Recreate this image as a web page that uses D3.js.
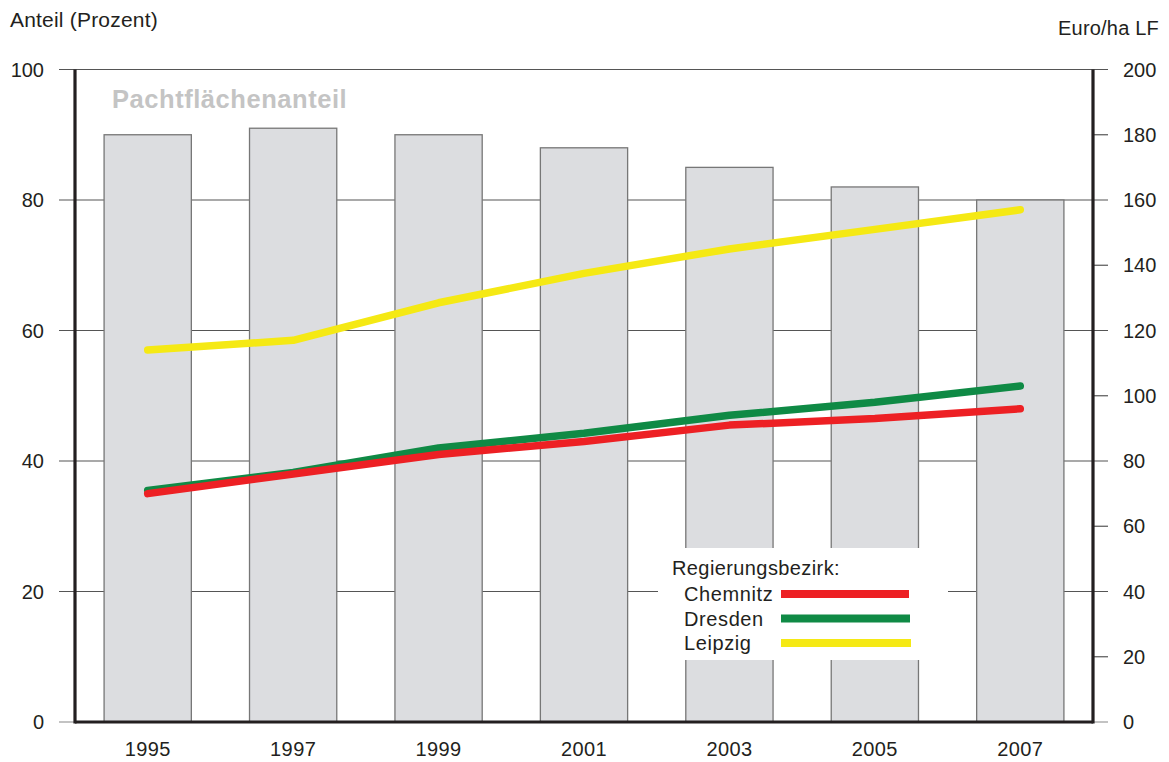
<!DOCTYPE html>
<html>
<head>
<meta charset="utf-8">
<script src="https://cdn.jsdelivr.net/npm/d3@7"></script>
<style>
  body { margin: 0; background: #fff; }
  svg { display: block; font-family: "Liberation Sans", Arial, sans-serif; }
</style>
</head>
<body>
<svg></svg>
<script>
const years = ['1995', '1997', '1999', '2001', '2003', '2005', '2007'];
const pachtAnteil = [90, 91, 90, 88, 85, 82, 80];
const chemnitz = [70, 76, 82, 86, 91, 93, 96];
const dresden = [71, 76.5, 84, 88.5, 94, 98, 103];
const leipzig = [114, 117, 128.5, 137.5, 145, 151, 157];
const leftTicks = [0, 20, 40, 60, 80, 100];
const rightTicks = [0, 20, 40, 60, 80, 100, 120, 140, 160, 180, 200];

const size = {w: 1169, h: 762};
const margin = {t: 69.5, r: 76, b: 40, l: 75};
const svg = d3.select('svg')
    .attr('width', size.w)
    .attr('height', size.h);

const x = d3.scaleBand()
    .domain(years)
    .range([margin.l, size.w - margin.r])
    .paddingInner(0.4)
    .paddingOuter(0.2);

const yL = d3.scaleLinear().domain([0, 100]).range([size.h - margin.b, margin.t]);
const yR = d3.scaleLinear().domain([0, 200]).range([size.h - margin.b, margin.t]);

const x0 = margin.l, x1 = size.w - margin.r;

// gridlines + ticks
svg.append('g').selectAll('line')
    .data(leftTicks)
    .join('line')
    .attr('x1', x0 - 16)
    .attr('x2', x1 + 15)
    .attr('y1', d => yL(d))
    .attr('y2', d => yL(d))
    .attr('stroke', d => d === 0 ? '#888' : '#555')
    .attr('stroke-width', 1.2);

// right-only ticks (odd ones)
svg.append('g').selectAll('line')
    .data(rightTicks.filter(d => d % 40 !== 0))
    .join('line')
    .attr('x1', x1)
    .attr('x2', x1 + 15)
    .attr('y1', d => yR(d))
    .attr('y2', d => yR(d))
    .attr('stroke', '#555')
    .attr('stroke-width', 1.2);

// bars
svg.append('g').selectAll('rect')
    .data(pachtAnteil)
    .join('rect')
    .attr('x', (d, i) => x(years[i]))
    .attr('width', x.bandwidth())
    .attr('y', d => yL(d))
    .attr('height', d => yL(0) - yL(d))
    .attr('fill', '#dcdde0')
    .attr('stroke', '#777')
    .attr('stroke-width', 1.3);

// legend background
svg.append('rect')
    .attr('x', 658).attr('y', 548)
    .attr('width', 290).attr('height', 112)
    .attr('fill', '#fff');

// lines
const cx = (d, i) => x(years[i]) + x.bandwidth() / 2;
const line = d3.line().x(cx).y(d => yR(d));
const series = [
    {name: 'Leipzig', values: leipzig, color: '#f5e914'},
    {name: 'Dresden', values: dresden, color: '#0f8a45'},
    {name: 'Chemnitz', values: chemnitz, color: '#ed2024'}
];
svg.append('g').selectAll('path')
    .data(series)
    .join('path')
    .attr('d', d => line(d.values))
    .attr('fill', 'none')
    .attr('stroke', d => d.color)
    .attr('stroke-width', 7.5)
    .attr('stroke-linecap', 'round')
    .attr('stroke-linejoin', 'round');

// axes
const axisG = svg.append('g').attr('stroke', '#231f20').attr('stroke-width', 3.2);
axisG.append('line').attr('x1', x0).attr('x2', x0).attr('y1', yL(100)).attr('y2', yL(0) + 1.5);
axisG.append('line').attr('x1', x1).attr('x2', x1).attr('y1', yL(100)).attr('y2', yL(0) + 1.5);
axisG.append('line').attr('x1', x0).attr('x2', x1).attr('y1', yL(0)).attr('y2', yL(0));

// tick labels
svg.append('g').selectAll('text')
    .data(leftTicks)
    .join('text')
    .attr('x', 44)
    .attr('y', d => yL(d))
    .attr('dy', '0.36em')
    .attr('text-anchor', 'end')
    .attr('font-size', 20)
    .attr('fill', '#231f20')
    .text(d => d);

svg.append('g').selectAll('text')
    .data(rightTicks)
    .join('text')
    .attr('x', 1123)
    .attr('y', d => yR(d))
    .attr('dy', '0.36em')
    .attr('font-size', 20)
    .attr('fill', '#231f20')
    .text(d => d);

svg.append('g').selectAll('text')
    .data(years)
    .join('text')
    .attr('x', d => x(d) + x.bandwidth() / 2)
    .attr('y', 756)
    .attr('text-anchor', 'middle')
    .attr('font-size', 20)
    .attr('fill', '#231f20')
    .attr('letter-spacing', 0.4)
    .text(d => d);

// titles
svg.append('text').attr('x', 10).attr('y', 27)
    .attr('font-size', 21).attr('fill', '#231f20')
    .attr('letter-spacing', 0.2)
    .text('Anteil (Prozent)');
svg.append('text').attr('x', 1159).attr('y', 35)
    .attr('text-anchor', 'end')
    .attr('font-size', 20).attr('fill', '#231f20')
    .attr('letter-spacing', 0.2)
    .text('Euro/ha LF');
svg.append('text').attr('x', 112).attr('y', 108)
    .attr('font-size', 25.5).attr('font-weight', 'bold')
    .attr('fill', '#c4c4c4').attr('letter-spacing', 0.55)
    .text('Pachtflächenanteil');

// legend
const lg = svg.append('g');
lg.append('text').attr('x', 672).attr('y', 575)
    .attr('font-size', 20).attr('fill', '#231f20').attr('letter-spacing', 0.4)
    .text('Regierungsbezirk:');
const legendItems = series.slice().reverse();
legendItems.forEach((s, i) => {
    const yy = 594 + i * 24.5;
    lg.append('text').attr('x', 684).attr('y', yy)
        .attr('dy', '0.36em')
        .attr('font-size', 20).attr('fill', '#231f20').attr('letter-spacing', 0.6)
        .text(s.name);
    lg.append('line')
        .attr('x1', 781).attr('x2', 909 + i)
        .attr('y1', yy).attr('y2', yy)
        .attr('stroke', s.color).attr('stroke-width', 8);
});
</script>
</body>
</html>
